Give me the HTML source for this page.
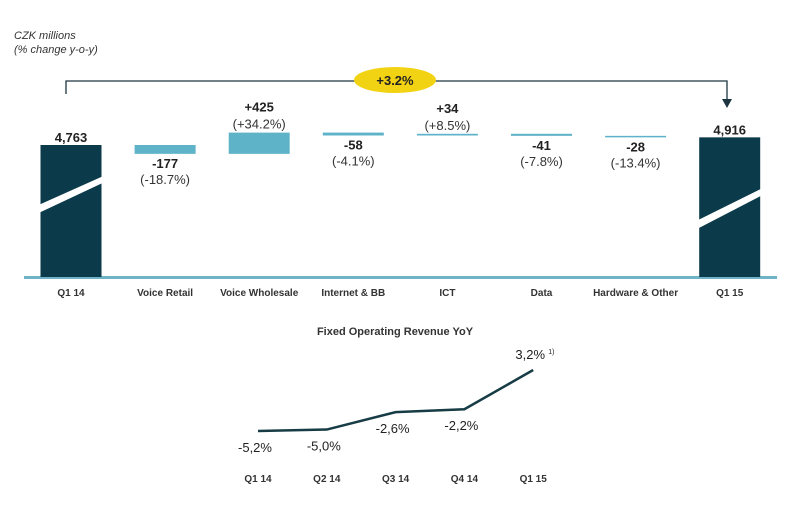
<!DOCTYPE html>
<html><head><meta charset="utf-8"><style>
body{margin:0;background:#fff;width:791px;height:505px;overflow:hidden;font-family:"Liberation Sans",sans-serif}
</style></head><body>
<svg id="c" width="791" height="505" font-family="Liberation Sans, sans-serif">
<text x="14" y="39" font-size="11" font-style="italic" fill="#333">CZK millions</text>
<text x="14" y="53" font-size="11" font-style="italic" fill="#333">(% change y-o-y)</text>
<path d="M66,94 V81 H727 V100" stroke="#1d3540" stroke-width="1.3" fill="none"/>
<path d="M722,99 L732,99 L727,108 Z" fill="#1d3540"/>
<ellipse cx="395" cy="80" rx="41" ry="13" fill="#f2d313"/>
<text x="395" y="85" font-size="13" font-weight="bold" text-anchor="middle" fill="#222">+3.2%</text>
<rect x="24" y="276" width="753" height="3" fill="#6fb3c6"/>
<g id="wf"></g>
<text x="395" y="335" font-size="11" font-weight="bold" text-anchor="middle" fill="#333">Fixed Operating Revenue YoY</text>
<g id="lc"></g>
</svg>
<script>
const wfCats=["Q1 14","Voice Retail","Voice Wholesale","Internet & BB","ICT","Data","Hardware & Other","Q1 15"];
const wfVals=[4763,-177,425,-58,34,-41,-28,4916];
const wfPct=["","(-18.7%)","(+34.2%)","(-4.1%)","(+8.5%)","(-7.8%)","(-13.4%)",""];
const lnCats=["Q1 14","Q2 14","Q3 14","Q4 14","Q1 15"];
const lnVals=[-5.2,-5.0,-2.6,-2.2,3.2];
const lnLabels=["-5,2%","-5,0%","-2,6%","-2,2%","3,2%"];
const NS="http://www.w3.org/2000/svg";
function mk(t,a,p){const e=document.createElementNS(NS,t);for(const k in a)e.setAttribute(k,a[k]);p.appendChild(e);return e;}
const wx=i=>71+i*94.1;
const wy=v=>145-(v-wfVals[0])*0.05;
const wf=document.getElementById('wf');
let run=wfVals[0];
wfCats.forEach((c,i)=>{
  const x=wx(i);const v=wfVals[i];
  const lab=mk('text',{x:x,y:296,'font-size':10,'font-weight':'bold','text-anchor':'middle',fill:'#333'},wf);lab.textContent=c;
  
  
  if(i===0||i===wfCats.length-1){
    const top=wy(v);const H=277-top;
    const f=i===0?[0.45,0.51,0.24,0.29]:[0.59,0.65,0.37,0.42];
    const r=mk('rect',{x:x-30.5,y:top,width:61,height:H,fill:'#0b3a4a'},wf);
    
    
    const s=mk('path',{d:`M${x-31},${top+H*f[0]} L${x+31},${top+H*f[2]} L${x+31},${top+H*f[3]} L${x-31},${top+H*f[1]} Z`,fill:'#fff'},wf);
    
    
    const t=mk('text',{x:x,y:top-3,'font-size':13,'font-weight':'bold','text-anchor':'middle',fill:'#222'},wf);t.textContent=v.toLocaleString('en-US');
    
    
  } else {
    const a=wy(run),b=wy(run+v);run+=v;
    const top=Math.min(a,b),h=Math.max(Math.abs(a-b),1.5);
    const r=mk('rect',{x:x-30.5,y:top,width:61,height:h,fill:'#5fb3c8'},wf);
    
    
    const txt=(v>0?'+':'')+v;
    let y1,y2;
    if(v>0){y1=top-21;y2=top-4;}else{y1=top+h+14;y2=top+h+30;}
    const t1=mk('text',{x:x,y:y1,'font-size':13,'font-weight':'bold','text-anchor':'middle',fill:'#222'},wf);t1.textContent=txt;
    
    
    const t2=mk('text',{x:x,y:y2,'font-size':13,'text-anchor':'middle',fill:'#333'},wf);t2.textContent=wfPct[i];
    
    
  }
});
const lx=i=>258+i*68.8;
const ly=v=>431-(v-lnVals[0])*7.26;
const lc=document.getElementById('lc');
const pl=mk('polyline',{points:lnVals.map((v,i)=>lx(i)+','+ly(v)).join(' '),fill:'none',stroke:'#173c45','stroke-width':2.5},lc);


lnCats.forEach((c,i)=>{
  const t=mk('text',{x:lx(i),y:482,'font-size':10,'font-weight':'bold','text-anchor':'middle',fill:'#333'},lc);t.textContent=c;
  
  
  const v=lnVals[i];
  const y=v<0?ly(v)+21:ly(v)-11;
  const l=mk('text',{x:lx(i)-3,y:y,'font-size':13,'text-anchor':'middle',fill:'#222'},lc);l.textContent=lnLabels[i];
  
  
  if(i===lnCats.length-1){
    const f=mk('text',{x:lx(i)+15,y:y-5,'font-size':7,fill:'#222'},lc);f.textContent='1)';
    
    
  }
});
</script>
</body></html>
